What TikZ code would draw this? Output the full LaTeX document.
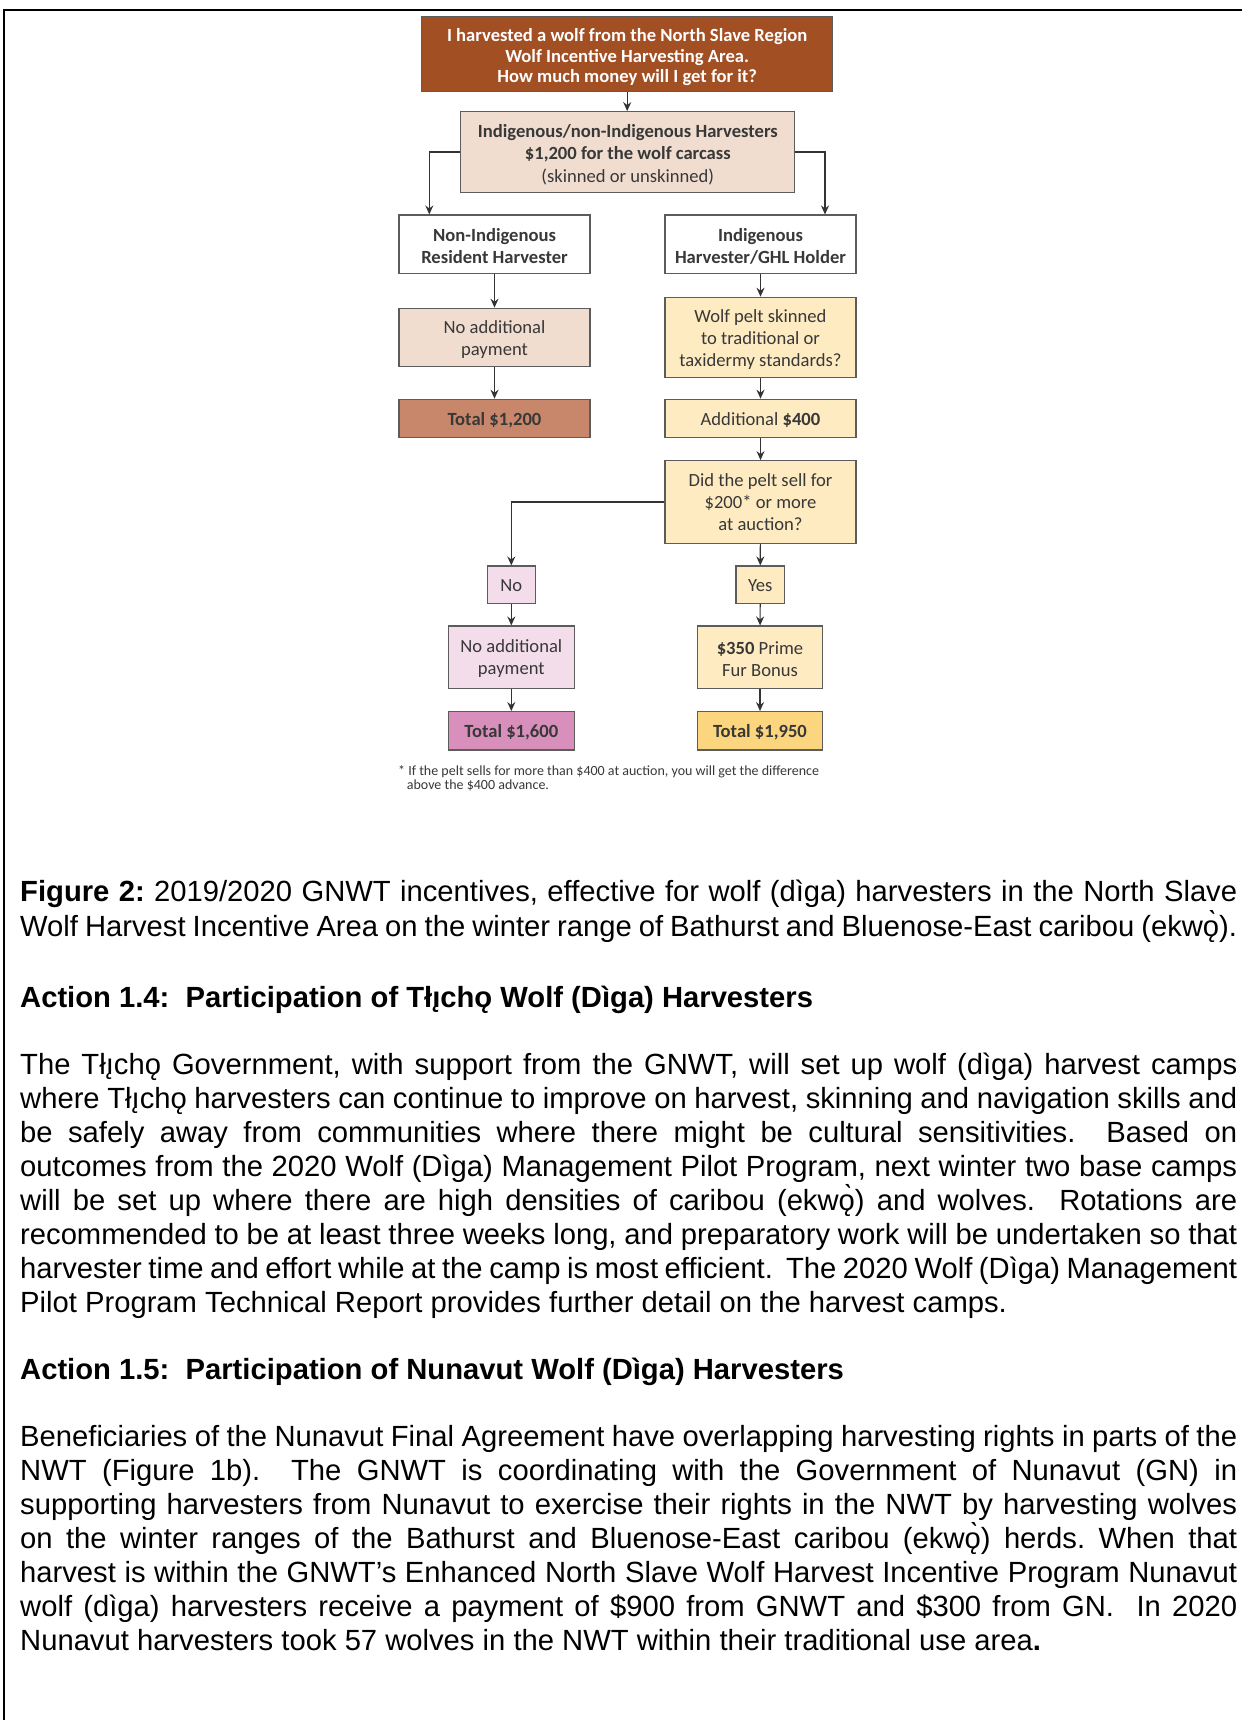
\documentclass[tikz,border=0pt]{standalone}
\usepackage{fontspec}
\setmainfont{Liberation Sans}
\newfontfamily\carl{Carlito}
\usetikzlibrary{arrows.meta}
\definecolor{rust}{HTML}{A24F24}
\definecolor{peach}{HTML}{F0DDD0}
\definecolor{tan}{HTML}{C8876A}
\definecolor{paleyel}{HTML}{FEEBC2}
\definecolor{gold}{HTML}{FCD67E}
\definecolor{palepink}{HTML}{F4DDEB}
\definecolor{deeppink}{HTML}{D98FBC}
\definecolor{boxline}{HTML}{5C5C5C}
\definecolor{arrline}{HTML}{333333}
\definecolor{txt}{HTML}{383838}
\tikzset{
  box/.style={draw=boxline, line width=1.2pt, inner sep=0pt},
  btxt/.style={inner sep=0pt, align=center, text=txt, font=\carl\fontsize{18.6}{22}\selectfont},
  bbtxt/.style={btxt, font=\carl\bfseries\fontsize{18.6}{22}\selectfont},
  arr/.style={draw=arrline, line width=1.2pt, -{Stealth[length=9pt,width=8pt,inset=3pt]}},
  bodyline/.style={anchor=base west, inner sep=0pt, font=\fontsize{29.2}{34}\selectfont, text=black},
  headline/.style={bodyline, font=\bfseries\fontsize{29.2}{34}\selectfont},
  footline/.style={anchor=base west, inner sep=0pt, text=txt, font=\carl\fontsize{14}{14}\selectfont},
}
\newcommand\jl[1]{\makebox[1217pt][s]{#1}}
\begin{document}
\frenchspacing
\begin{tikzpicture}[x=1pt,y=-1pt]
\useasboundingbox (0,0) rectangle (1242,1720);
\fill[white] (0,0) rectangle (1242,1720);
% page borders
\draw[line width=2pt] (3.7,1720) -- (3.7,10) -- (398,10);
\draw[line width=1.1pt] (398,10) -- (860,10);
\draw[line width=2pt] (860,10) -- (1242,10);

% flowchart boxes
\node[box, fill=rust, minimum width=411pt, minimum height=75pt] (top) at (627.2,54) {};
\node[btxt, text=white, font=\carl\bfseries\fontsize{18.6}{20.5}\selectfont] (top-t) at ([yshift=-3.3pt]top.center)
  {I harvested a wolf from the North Slave Region\\Wolf Incentive Harvesting Area.\\How much money will I get for it?};

\node[box, fill=peach, minimum width=334pt, minimum height=80.6pt] (b2) at (627.8,152) {};
\node[btxt, font=\carl\fontsize{18.6}{22.5}\selectfont] (b2-t) at ([yshift=-2.5pt]b2.center)
  {\textbf{Indigenous/non-Indigenous Harvesters}\\\textbf{\$1,200 for the wolf carcass}\\(skinned or unskinned)};

\node[box, fill=white, minimum width=191pt, minimum height=58.3pt] (nonind) at (494.5,244.2) {};
\node[bbtxt] (nonind-t) at ([yshift=-2.2pt]nonind.center) {Non-Indigenous\\Resident Harvester};

\node[box, fill=white, minimum width=191pt, minimum height=58.3pt] (ind) at (760.5,244.2) {};
\node[bbtxt] (ind-t) at ([yshift=-2.2pt]ind.center) {Indigenous\\Harvester/GHL Holder};

\node[box, fill=peach, minimum width=191pt, minimum height=58.4pt] (noadd1) at (494.5,337.5) {};
\node[btxt] (noadd1-t) at ([yshift=-2pt]noadd1.center) {No additional\\payment};

\node[box, fill=paleyel, minimum width=191pt, minimum height=80pt] (pelt) at (760.5,337.3) {};
\node[btxt] (pelt-t) at ([yshift=-2pt]pelt.center) {Wolf pelt skinned\\to traditional or\\taxidermy standards?};

\node[box, fill=tan, minimum width=191pt, minimum height=38pt] (tot1200) at (494.5,418.3) {};
\node[bbtxt] (tot1200-t) at ([yshift=-2pt]tot1200.center) {Total \$1,200};

\node[box, fill=paleyel, minimum width=191pt, minimum height=38pt] (add400) at (760.5,418.3) {};
\node[btxt] (add400-t) at ([yshift=-2pt]add400.center) {Additional \textbf{\$400}};

\node[box, fill=paleyel, minimum width=191pt, minimum height=82.6pt] (did) at (760.5,502) {};
\node[btxt] (did-t) at ([yshift=-0.5pt]did.center) {Did the pelt sell for\\\$200* or more\\at auction?};

\node[box, fill=palepink, minimum width=48pt, minimum height=37.3pt] (no) at (511.3,584.7) {};
\node[btxt] (no-t) at ([yshift=-1pt]no.center) {No};

\node[box, fill=paleyel, minimum width=48.3pt, minimum height=37.3pt] (yes) at (760.2,584.7) {};
\node[btxt] (yes-t) at ([yshift=-1pt]yes.center) {Yes};

\node[box, fill=palepink, minimum width=126pt, minimum height=62.3pt] (noadd2) at (511.3,657.2) {};
\node[btxt] (noadd2-t) at ([yshift=-1.5pt]noadd2.center) {No additional\\payment};

\node[box, fill=paleyel, minimum width=125.4pt, minimum height=62.3pt] (bonus) at (760,657.2) {};
\node[btxt] (bonus-t) at ([yshift=-1.5pt]bonus.center) {\textbf{\$350} Prime\\Fur Bonus};

\node[box, fill=deeppink, minimum width=126pt, minimum height=38.3pt] (tot1600) at (511.3,730.8) {};
\node[bbtxt] (tot1600-t) at ([yshift=-1.5pt]tot1600.center) {Total \$1,600};

\node[box, fill=gold, minimum width=125.4pt, minimum height=38.3pt] (tot1950) at (760,730.8) {};
\node[bbtxt] (tot1950-t) at ([yshift=-1.5pt]tot1950.center) {Total \$1,950};

% connectors
\draw[arr] (top.south) -- (top.south |- b2.north);
\draw[arr] (b2.west) -| ([xshift=-65.2pt]nonind.north);
\draw[arr] (b2.east) -| ([xshift=64.5pt]ind.north);
\draw[arr] (nonind) -- (noadd1);
\draw[arr] (noadd1) -- (tot1200);
\draw[arr] (ind) -- (pelt);
\draw[arr] (pelt) -- (add400);
\draw[arr] (add400) -- (did);
\draw[arr] (did) -- (yes);
\draw[arr] (did.west) -| (no.north);
\draw[arr] (no) -- (noadd2);
\draw[arr] (noadd2) -- (tot1600);
\draw[arr] (yes) -- (bonus);
\draw[arr] (bonus) -- (tot1950);

% footnote
\node[footline] (fn1) at (398,775.5)
  {* If the pelt sells for more than \$400 at auction, you will get the difference};
\node[footline] (fn2) at (406.7,789.5)
  {above the \$400 advance.};

% caption
\node[bodyline] (c1) at (20,901) {\jl{\textbf{Figure 2:} 2019/2020 GNWT incentives, effective for wolf (dìga) harvesters in the North Slave}};
\node[bodyline] (c2) at (20,936) {\jl{Wolf Harvest Incentive Area on the winter range of Bathurst and Bluenose-East caribou (ekwǫ̀).}};

% Action 1.4
\node[headline] (h1) at (20,1007) {Action 1.4:\ \ Participation of Tłı̨chǫ Wolf (Dìga) Harvesters};
\node[bodyline] (p1a) at (20,1074) {\jl{The Tłı̨chǫ Government, with support from the GNWT, will set up wolf (dìga) harvest camps}};
\node[bodyline] (p1b) at (20,1108) {\jl{where Tłı̨chǫ harvesters can continue to improve on harvest, skinning and navigation skills and}};
\node[bodyline] (p1c) at (20,1142) {\jl{be safely away from communities where there might be cultural sensitivities.\ \ Based on}};
\node[bodyline] (p1d) at (20,1176) {\jl{outcomes from the 2020 Wolf (Dìga) Management Pilot Program, next winter two base camps}};
\node[bodyline] (p1e) at (20,1210) {\jl{will be set up where there are high densities of caribou (ekwǫ̀) and wolves.\ \ Rotations are}};
\node[bodyline] (p1f) at (20,1244) {\jl{recommended to be at least three weeks long, and preparatory work will be undertaken so that}};
\node[bodyline] (p1g) at (20,1278) {\jl{harvester time and effort while at the camp is most efficient.\ \ The 2020 Wolf (Dìga) Management}};
\node[bodyline] (p1h) at (20,1312) {Pilot Program Technical Report provides further detail on the harvest camps.};

% Action 1.5
\node[headline] (h2) at (20,1379) {Action 1.5:\ \ Participation of Nunavut Wolf (Dìga) Harvesters};
\node[bodyline] (p2a) at (20,1446) {\jl{Beneficiaries of the Nunavut Final Agreement have overlapping harvesting rights in parts of the}};
\node[bodyline] (p2b) at (20,1480) {\jl{NWT (Figure 1b).\ \ The GNWT is coordinating with the Government of Nunavut (GN) in}};
\node[bodyline] (p2c) at (20,1514) {\jl{supporting harvesters from Nunavut to exercise their rights in the NWT by harvesting wolves}};
\node[bodyline] (p2d) at (20,1548) {\jl{on the winter ranges of the Bathurst and Bluenose-East caribou (ekwǫ̀) herds. When that}};
\node[bodyline] (p2e) at (20,1582) {\jl{harvest is within the GNWT’s Enhanced North Slave Wolf Harvest Incentive Program Nunavut}};
\node[bodyline] (p2f) at (20,1616) {\jl{wolf (dìga) harvesters receive a payment of \$900 from GNWT and \$300 from GN.\ \ In 2020}};
\node[bodyline] (p2g) at (20,1650) {Nunavut harvesters took 57 wolves in the NWT within their traditional use area\textbf{.}};
\end{tikzpicture}
\end{document}
